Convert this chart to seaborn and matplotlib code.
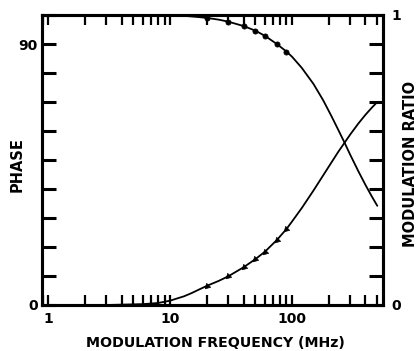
import numpy as np
import pandas as pd
import matplotlib
matplotlib.use("Agg")
import matplotlib.pyplot as plt
import seaborn as sns
from matplotlib.ticker import FixedLocator, NullFormatter, FixedFormatter, LogLocator

# ---- data ----
line_freq = [1, 3, 6, 8, 10, 13, 15, 17, 20, 25, 30, 40, 50, 60, 75, 90, 100, 120, 150,
             180, 210, 240, 270, 300, 350, 400, 450, 500]
line_phase = [0, 0, 0.3, 0.7, 1.5, 3.0, 4.1, 5.2, 6.6, 8.3, 9.9, 13.0, 15.8, 18.4, 22.4,
              26.2, 28.8, 33.4, 39.5, 44.7, 49.1, 52.9, 56.0, 58.8, 62.6, 65.6, 68.0, 70.0]
line_mod = [1.0, 1.0, 1.0, 0.999, 0.998, 0.997, 0.995, 0.993, 0.99, 0.984, 0.977, 0.962,
            0.946, 0.928, 0.90, 0.874, 0.856, 0.818, 0.762, 0.706, 0.652, 0.603, 0.559,
            0.518, 0.461, 0.414, 0.375, 0.342]

pt_freq = [20, 30, 40, 50, 60, 75, 90]
pt_phase = [6.6, 9.9, 13.0, 15.8, 18.4, 22.4, 26.2]
pt_mod = [0.99, 0.977, 0.962, 0.946, 0.928, 0.90, 0.874]

x_ticks = [1, 10, 100]
x_ticklabels = ["1", "10", "100"]

sns.set_style("ticks")
plt.rcParams['font.family'] = ['DejaVu Sans']
plt.rcParams['font.weight'] = 'bold'
K = "black"

fig = plt.figure(figsize=(4.18, 3.51), dpi=100)
ax = fig.add_axes([42/418, 1-305/351, (383-42)/418, (305-15)/351])
ax2 = ax.twinx()

df_line = pd.DataFrame({"f": line_freq, "phase": line_phase, "mod": line_mod})
df_pt = pd.DataFrame({"f": pt_freq, "phase": pt_phase, "mod": pt_mod})

sns.lineplot(data=df_line, x="f", y="phase", ax=ax, color=K, lw=1.3)
sns.scatterplot(data=df_pt, x="f", y="phase", ax=ax, color=K,
                marker=(3, 0, 135), s=22, edgecolor=K, linewidth=0.5, zorder=5)
sns.lineplot(data=df_line, x="f", y="mod", ax=ax2, color=K, lw=1.3)
sns.scatterplot(data=df_pt, x="f", y="mod", ax=ax2, color=K,
                marker="o", s=14, edgecolor=K, linewidth=0.5, zorder=5)

ax.set_xscale("log")
ax.set_xlim(0.89, 557)
ax.set_ylim(0, 100)
ax2.set_ylim(0, 1)

# x ticks
ax.xaxis.set_major_locator(FixedLocator(x_ticks))
ax.xaxis.set_major_formatter(FixedFormatter(x_ticklabels))
ax.xaxis.set_minor_locator(LogLocator(base=10, subs=np.arange(2, 10)))
ax.xaxis.set_minor_formatter(NullFormatter())
ax.tick_params(axis='x', which='both', direction='in', top=True, bottom=True,
               length=7, width=1.6, labelsize=10, pad=5, colors=K)

# left y ticks
ax.set_yticks(np.arange(0, 101, 10))
ax.set_yticklabels(["0", "", "", "", "", "", "", "", "", "90", ""])
ax.tick_params(axis='y', which='both', direction='in', left=True, right=False,
               length=10, width=2.2, labelsize=10, pad=3, colors=K)

# right y ticks
ax2.set_yticks(np.arange(0, 1.01, 0.1))
ax2.set_yticklabels(["0", "", "", "", "", "", "", "", "", "", "1"])
ax2.tick_params(axis='y', direction='in', right=True, length=10, width=2.2,
                labelsize=10, pad=6, colors=K)

for a in (ax, ax2):
    for s in a.spines.values():
        s.set_linewidth(2.2)
        s.set_color(K)
        s.set_visible(True)

ax.set_xlabel("MODULATION FREQUENCY (MHz)", fontsize=10.2, fontweight='bold', color=K)
ax.set_ylabel("PHASE", fontsize=10.5, fontweight='bold', color=K)
ax2.set_ylabel("MODULATION RATIO", fontsize=10.5, fontweight='bold', color=K)
ax.xaxis.set_label_coords(0.51, -0.108)
ax.yaxis.set_label_coords(-0.05, 0.485)
ax2.yaxis.set_label_coords(1.06, 0.485)

for lab in ax.get_xticklabels() + ax.get_yticklabels() + ax2.get_yticklabels():
    lab.set_fontweight('bold')

fig.savefig("out.png", dpi=100)
